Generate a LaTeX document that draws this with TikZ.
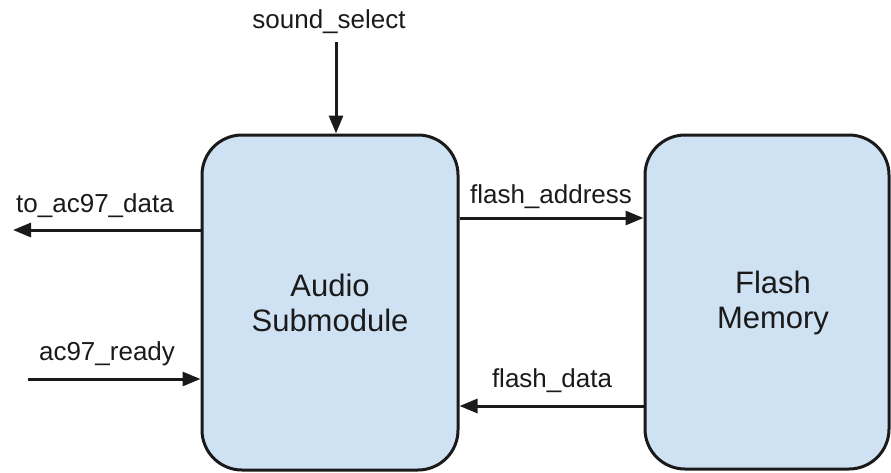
\documentclass[tikz,border=0pt]{standalone}
\usepackage{fontspec}
\setmainfont{Liberation Sans}
\usetikzlibrary{arrows.meta}
\definecolor{boxfill}{HTML}{CFE2F3}
\definecolor{ink}{HTML}{1A1A1A}
\begin{document}
\begin{tikzpicture}[x=1pt,y=-1pt,
  blockbox/.style={draw=ink,fill=boxfill,line width=3pt,rounded corners=40pt,inner sep=0pt,
    text=ink,font=\fontsize{31}{35}\selectfont,align=center},
  sig/.style={draw=ink,line width=3pt,-{Triangle[length=18pt,width=14pt]}},
  lbl/.style={text=ink,font=\fontsize{26}{30}\selectfont,anchor=base,inner sep=0pt}]
\useasboundingbox (0,0) rectangle (891,472);
\node[blockbox,minimum width=256pt,minimum height=335pt] (audio) at (330,302.5) {Audio\\Submodule};
\node[blockbox,minimum width=244pt,minimum height=334pt] (flash) at (767,302) {};
\node[text=ink,font=\fontsize{31}{35}\selectfont,align=center,inner sep=0pt] (flashtxt) at (773,302.5) {Flash\\Memory};
\coordinate (toac) at (13,230);
\coordinate (rdy) at (28,379);
\coordinate (snd) at (336,42);
\draw[sig] (audio.west |- toac) -- (toac);
\draw[sig] (rdy) -- (audio.west |- rdy);
\draw[sig] (snd) -- (audio.north -| snd);
\draw[sig] (audio.east |- 0,218) -- (flash.west |- 0,218);
\draw[sig] (flash.west |- 0,406) -- (audio.east |- 0,406);
\node[lbl] (ltoac) at (95,212) {to\_ac97\_data};
\node[lbl] (lrdy) at (107,360) {ac97\_ready};
\node[lbl] (lsnd) at (329,28) {sound\_select};
\node[lbl] (laddr) at (551,203) {flash\_address};
\node[lbl] (ldata) at (552,387) {flash\_data};
\end{tikzpicture}
\end{document}
